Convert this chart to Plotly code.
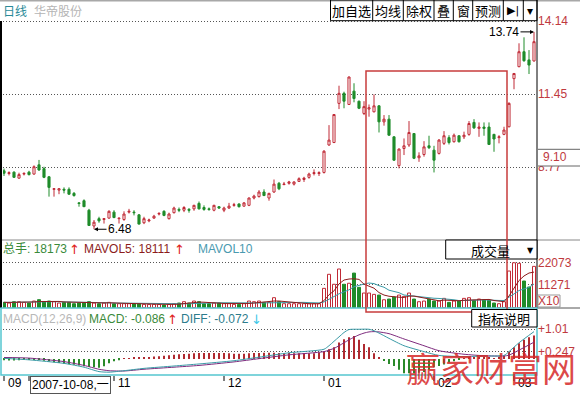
import plotly.graph_objects as go
import pandas as pd

# ---------------- data ----------------
opens = [8.63, 8.53, 8.58, 8.36, 8.51, 8.58, 8.51, 8.85, 8.71, 8.41,
         7.95, 7.92, 7.95, 7.95, 7.80, 7.45, 7.53, 7.18, 6.60, 6.87,
         6.84, 6.89, 7.11, 6.87, 6.84, 7.11, 7.11, 7.01, 6.72, 6.79,
         6.89, 7.04, 7.14, 6.87, 7.09, 7.21, 7.18, 7.21, 7.23, 7.43,
         7.28, 7.23, 7.18, 7.31, 7.18, 7.26, 7.36, 7.41, 7.33, 7.36,
         7.63, 7.68, 7.85, 7.63, 7.85, 8.17, 8.12, 8.17, 8.14, 8.24,
         8.31, 8.39, 8.53, 8.53, 8.57, 9.58, 9.67, 11.11, 11.48, 11.07,
         11.56, 11.19, 10.74, 10.90, 10.80, 11.02, 10.43, 10.53, 9.88, 8.82,
         9.45, 9.58, 10.00, 9.11, 9.23, 9.55, 9.39, 9.27, 9.64, 9.85,
         9.70, 9.92, 9.88, 9.97, 10.41, 10.19, 10.24, 10.24, 9.97, 9.85,
         9.97, 10.25, 12.02, 12.46, 13.01, 12.71, 12.67]
highs = [8.71, 8.61, 8.61, 8.56, 8.58, 8.63, 8.83, 9.03, 8.78, 8.44,
         7.99, 7.99, 8.02, 8.02, 7.85, 7.48, 7.58, 7.23, 6.82, 6.94,
         6.89, 7.18, 7.18, 6.89, 7.14, 7.23, 7.18, 7.04, 6.94, 6.87,
         7.01, 7.11, 7.18, 7.09, 7.31, 7.28, 7.33, 7.26, 7.38, 7.50,
         7.36, 7.28, 7.38, 7.33, 7.31, 7.45, 7.45, 7.43, 7.48, 7.65,
         7.75, 7.92, 7.95, 7.82, 8.31, 8.22, 8.22, 8.26, 8.24, 8.39,
         8.41, 8.56, 8.68, 8.61, 9.39, 10.31, 10.72, 11.76, 11.54, 12.10,
         11.85, 11.21, 11.19, 11.07, 11.44, 11.04, 10.68, 10.68, 9.90, 9.45,
         9.82, 10.46, 10.02, 9.31, 9.72, 9.92, 9.55, 9.80, 10.09, 9.94,
         10.00, 9.93, 10.07, 10.46, 10.53, 10.41, 10.41, 10.41, 9.99, 9.94,
         10.25, 11.15, 12.22, 13.32, 13.54, 13.07, 13.74]
lows = [8.44, 8.46, 8.37, 8.34, 8.46, 8.46, 8.49, 8.63, 8.36, 7.68,
        7.68, 7.77, 7.80, 7.75, 7.68, 7.31, 7.30, 6.60, 6.48, 6.72,
        6.69, 6.87, 6.89, 6.69, 6.79, 7.06, 6.99, 6.66, 6.67, 6.74,
        6.87, 6.99, 6.96, 6.84, 7.06, 7.11, 7.11, 7.09, 7.16, 7.21,
        7.16, 7.16, 7.14, 7.23, 7.11, 7.23, 7.31, 7.28, 7.31, 7.33,
        7.58, 7.65, 7.70, 7.53, 7.82, 7.92, 8.11, 8.12, 8.09, 8.22,
        8.22, 8.34, 8.46, 8.44, 8.53, 9.55, 9.65, 10.90, 10.93, 11.05,
        11.15, 10.90, 10.68, 10.62, 10.78, 10.04, 10.29, 9.92, 9.00, 8.72,
        9.21, 9.51, 9.06, 8.96, 9.15, 9.43, 8.57, 9.23, 9.58, 9.60,
        9.67, 9.67, 9.80, 9.92, 10.17, 9.88, 9.92, 9.58, 9.33, 9.64,
        9.94, 10.23, 11.63, 12.44, 12.64, 12.19, 12.65]
closes = [8.54, 8.56, 8.39, 8.49, 8.53, 8.49, 8.78, 8.66, 8.39, 8.02,
          7.97, 7.97, 7.92, 7.77, 7.72, 7.43, 7.31, 6.62, 6.74, 6.79,
          6.87, 7.14, 6.91, 6.89, 7.04, 7.14, 7.09, 6.67, 6.87, 6.82,
          6.96, 7.06, 6.99, 7.04, 7.26, 7.18, 7.28, 7.18, 7.36, 7.23,
          7.21, 7.21, 7.36, 7.26, 7.26, 7.33, 7.38, 7.31, 7.45, 7.63,
          7.70, 7.85, 7.72, 7.80, 8.14, 7.97, 8.14, 8.22, 8.22, 8.34,
          8.36, 8.51, 8.56, 8.56, 9.35, 9.76, 10.70, 11.48, 11.19, 12.08,
          11.29, 10.93, 10.99, 10.95, 11.02, 10.43, 10.53, 9.94, 9.02, 9.43,
          9.55, 10.04, 9.09, 9.18, 9.51, 9.48, 9.02, 9.76, 9.92, 9.67,
          9.94, 9.70, 9.94, 10.37, 10.21, 10.24, 10.19, 9.60, 9.80, 9.88,
          10.13, 11.11, 12.21, 13.01, 12.68, 12.52, 13.38]
volumes = [2620, 2290, 2950, 2950, 2620, 2290, 3270, 3930, 2950, 3270,
           2950, 2290, 2620, 2620, 1960, 2290, 2290, 2950, 2290, 1960,
           2290, 2620, 1960, 1960, 1960, 1960, 1960, 1960, 1640, 1640,
           1640, 1640, 1310, 1640, 1960, 2290, 2950, 2290, 3270, 2950,
           1960, 1960, 2290, 2290, 1960, 1960, 1640, 1640, 1960, 3270,
           2950, 3270, 2620, 2620, 4910, 2950, 1960, 1960, 1960, 1960,
           1960, 1960, 1960, 1960, 9500, 16400, 11500, 19000, 11500, 12000,
           17000, 10000, 7200, 7200, 6550, 6200, 3900, 4250, 5240, 6200,
           5560, 7200, 4250, 2950, 3270, 4250, 3270, 3270, 4580, 2620,
           3270, 3270, 4580, 4910, 3600, 4250, 3930, 3600, 2290, 1960,
           2950, 18000, 22073, 21800, 13100, 10150, 20300]
macd_hist = [-0.04, -0.05, -0.05, -0.04, -0.03, -0.03, -0.02, -0.02,
             -0.06, -0.09, -0.11, -0.14, -0.16, -0.18, -0.20, -0.22,
             -0.25, -0.27, -0.28, -0.30, -0.25, -0.15, -0.08, -0.04,
             0.02, 0.03, 0.04, 0.05, 0.06, 0.07, 0.08, 0.09,
             0.11, 0.13, 0.14, 0.16, 0.17, 0.18, 0.19, 0.20,
             0.20, 0.20, 0.20, 0.20, 0.20, 0.19, 0.18, 0.18,
             0.18, 0.19, 0.20, 0.20, 0.21, 0.21, 0.21, 0.20,
             0.20, 0.20, 0.19, 0.19, 0.19, 0.19, 0.19,
             0.22, 0.25, 0.33, 0.40, 0.56, 0.67, 0.74, 0.78, 0.65, 0.51, 0.40, 0.19, 0.06,
             -0.07, -0.17, -0.24, -0.37, -0.49, -0.49, -0.49, -0.47,
             -0.44, -0.37, -0.28, -0.24, -0.19, -0.12, -0.08, -0.02,
             0.03, 0.04, 0.05, 0.05, 0.04, 0.04, 0.03, 0.05,
             0.12, 0.25, 0.40, 0.53, 0.65, 0.74, 0.80]
diff_idx = [0, 5, 12, 16, 19, 21, 24, 28, 34, 39, 46, 51, 57, 64, 65, 66, 67,
            68, 69, 71, 73, 74, 75, 77, 80, 84, 87, 92, 96, 100, 101, 103, 106]
diff_vals = [0.02, -0.03, -0.15, -0.28, -0.43, -0.45, -0.40, -0.32, -0.24, -0.17,
             -0.06, 0.06, 0.21, 0.33, 0.45, 0.60, 0.75, 0.90, 1.00, 1.01, 1.01,
             0.96, 0.88, 0.70, 0.45, 0.25, 0.12, 0.08, 0.10, 0.12, 0.25, 0.55, 0.93]
dea_idx = [0, 5, 12, 16, 19, 21, 24, 28, 34, 39, 46, 51, 57, 64, 66, 67, 68, 69,
           70, 71, 72, 73, 74, 75, 77, 80, 84, 87, 92, 96, 100, 101, 103, 106]
dea_vals = [0.05, 0.03, -0.09, -0.22, -0.35, -0.40, -0.41, -0.35, -0.28, -0.22,
            -0.10, 0.01, 0.14, 0.25, 0.36, 0.45, 0.55, 0.65, 0.74, 0.82, 0.88,
            0.92, 0.93, 0.92, 0.86, 0.68, 0.45, 0.28, 0.16, 0.11, 0.10, 0.13,
            0.30, 0.57]
month_idx = [0, 5, 22, 44, 64, 86, 102]
month_labels = ["09", "10", "11", "12", "01", "02", "03"]
price_ticks = [8.77, 11.45, 14.14]
vol_ticks = [11271, 22073]
macd_ticks = [0.247, 1.01]
macd_tick_text = ["+0.247", "+1.01"]
high_value = 13.74
low_value = 6.48
box_price_text = "9.10"

# ---------------- styling / geometry ----------------
W, H = 580, 395
ML, MR, MT, MB = 3, 43, 0, 20
PW, PH = W - ML - MR, H - MT - MB


def px2x(px):
    return (px - ML) / PW


def py2y(py):
    return 1 - (py - MT) / PH


RED = "#c02a36"
GREEN = "#1f8c2a"
AXRED = "#c0393e"
TEAL = "#3a9aa6"
PURPLE = "#7d2a7d"
BOXTEAL = "#56c6d0"
FONT = "Liberation Sans, Noto Sans CJK SC, sans-serif"
CJK = "Noto Sans CJK SC, sans-serif"

n = len(opens)
idx = list(range(n))
up = [c >= o for o, c in zip(opens, closes)]
vol_s = pd.Series(volumes, dtype=float)
mavol5 = vol_s.rolling(5, min_periods=1).mean().tolist()
mavol10 = vol_s.rolling(10, min_periods=1).mean().tolist()

fig = go.Figure()
fig.add_trace(go.Candlestick(
    x=idx, open=opens, high=highs, low=lows, close=closes,
    increasing=dict(line=dict(color=RED, width=1), fillcolor="white"),
    decreasing=dict(line=dict(color=GREEN, width=1), fillcolor=GREEN),
    whiskerwidth=0, xaxis="x", yaxis="y", showlegend=False, hoverinfo="skip"))

fig.add_trace(go.Bar(
    x=idx, y=volumes, width=0.6, xaxis="x2", yaxis="y2", showlegend=False,
    marker=dict(color=["white" if u else GREEN for u in up],
                line=dict(color=[RED if u else GREEN for u in up], width=1))))
fig.add_trace(go.Scatter(x=idx, y=mavol10, mode="lines", xaxis="x2", yaxis="y2",
                         line=dict(color=TEAL, width=1), showlegend=False))
fig.add_trace(go.Scatter(x=idx, y=mavol5, mode="lines", xaxis="x2", yaxis="y2",
                         line=dict(color="#8c1c1c", width=1), showlegend=False))

fig.add_trace(go.Bar(
    x=idx, y=macd_hist, width=0.22, xaxis="x3", yaxis="y3", showlegend=False,
    marker=dict(color=["#b02a30" if v >= 0 else "#2a8a2a" for v in macd_hist],
                line=dict(width=0))))
fig.add_trace(go.Scatter(x=dea_idx, y=dea_vals, mode="lines", xaxis="x3", yaxis="y3",
                         line=dict(color=PURPLE, width=1, shape="spline", smoothing=0.6),
                         showlegend=False))
fig.add_trace(go.Scatter(x=diff_idx, y=diff_vals, mode="lines", xaxis="x3", yaxis="y3",
                         line=dict(color=TEAL, width=1, shape="spline", smoothing=0.6),
                         showlegend=False))

common_x = dict(range=[-0.2, 106.6], showgrid=False, zeroline=False,
                showticklabels=False, ticks="", showline=False, domain=[0, 1])
tickfont = dict(color=AXRED, size=12, family=FONT)
common_y = dict(side="right", showline=False, zeroline=False, ticks="",
                showgrid=True, gridcolor="#555555", gridwidth=1, griddash="1px,2px",
                tickfont=tickfont, automargin=False)

fig.update_layout(
    width=W, height=H,
    margin=dict(l=ML, r=MR, t=MT, b=MB),
    paper_bgcolor="white", plot_bgcolor="white",
    barmode="overlay", boxgap=0.4, showlegend=False,
    xaxis=dict(**common_x, anchor="y", rangeslider=dict(visible=False)),
    xaxis2=dict(**common_x, anchor="y2", matches="x"),
    xaxis3=dict(**common_x, anchor="y3", matches="x"),
    yaxis=dict(**common_y, domain=[py2y(240), py2y(2)], range=[6.085, 14.839],
               tickvals=price_ticks, ticktext=[f"{v:.2f}" for v in price_ticks]),
    yaxis2=dict(**common_y, domain=[py2y(308), py2y(240)], range=[-147, 33241],
                tickvals=vol_ticks, ticktext=[str(v) for v in vol_ticks]),
    yaxis3=dict(**common_y, domain=[0, py2y(308)], range=[-0.5456, 1.733],
                tickvals=macd_ticks, ticktext=macd_tick_text),
)

shapes = []


def line(x0, y0, x1, y1, color, width=1):
    shapes.append(dict(type="line", xref="paper", yref="paper", layer="above",
                       x0=px2x(x0), y0=py2y(y0), x1=px2x(x1), y1=py2y(y1),
                       line=dict(color=color, width=width)))


def rect(x0, y0, x1, y1, color, fill="rgba(0,0,0,0)", width=1):
    shapes.append(dict(type="rect", xref="paper", yref="paper", layer="above",
                       x0=px2x(x0), y0=py2y(y0), x1=px2x(x1), y1=py2y(y1),
                       line=dict(color=color, width=width), fillcolor=fill))


# frame
line(0, 0.5, 580, 0.5, "#a8a8a8", 2)
line(0, 240, 580, 240, "#888888", 1)
line(537, 0, 537, 308, "#000000", 1)
line(1, 21, 1, 308, "#000000", 2)
line(537, 308, 580, 308, "#555555", 1)
rect(1, 308, 537, 375, BOXTEAL, width=1.5)
# toolbar
rect(330.5, 0, 537, 20.7, "#000000")
for sx in [372.7, 403.3, 434, 453.3, 472.7, 503.3, 523.3]:
    line(sx, 0, sx, 20.7, "#000000")
# 9.10 price box
rect(538, 149.3, 580, 166, "rgba(0,0,0,0)", fill="white", width=0)
line(538, 149.3, 580, 149.3, "#666666")
line(538, 166, 580, 166, "#666666")
# 成交量 box
rect(445.7, 240, 537, 259, "#000000", fill="white")
# X10 box
rect(538, 295, 560, 307, "#999999")
# red selection rectangle
rect(366, 71, 507, 312, "#c83c3c", width=1.5)
# 指标说明 box
rect(471.7, 309.5, 537, 327, "#000000", fill="white")
# month tick marks
for mi in month_idx:
    shapes.append(dict(type="line", xref="x3", yref="paper", layer="above",
                       x0=mi, x1=mi, y0=py2y(376), y1=py2y(381),
                       line=dict(color="#000000", width=1)))
fig.update_layout(shapes=shapes)

anns = []


def T(px, py, text, color="#000000", size=12, anchor="left", family=FONT, **kw):
    d = dict(x=px2x(px), y=py2y(py), xref="paper", yref="paper", text=text,
             showarrow=False, xanchor=anchor, yanchor="middle",
             font=dict(color=color, size=size, family=family))
    d.update(kw)
    anns.append(d)


T(1, 11, "日线", color="#2a8a98", family=CJK)
T(32, 11, "华帝股份", color="#b4b4b4", family=CJK)
for cx, txt in [(351.7, "加自选"), (388, "均线"), (418.7, "除权"), (443.7, "叠"),
                (463, "窗"), (488, "预测")]:
    T(cx, 11, txt, size=13, anchor="center", family=CJK)
T(513.3, 11, "▶|", size=11, anchor="center", family="DejaVu Sans")
T(530.3, 11, "▾", size=12, anchor="center", family="DejaVu Sans")

# price markers
anns.append(dict(x=idx[-1], y=high_value, xref="x", yref="y", text=f"{high_value:.2f}",
                 showarrow=True, ax=-30, ay=0, arrowhead=2, arrowsize=0.8,
                 arrowwidth=1, arrowcolor="#000000", standoff=0,
                 font=dict(color="#000000", size=12, family=FONT)))
low_i = lows.index(min(lows))
anns.append(dict(x=low_i, y=low_value, xref="x", yref="y", text=f"{low_value:.2f}",
                 showarrow=True, ax=26, ay=0, arrowhead=2, arrowsize=0.8,
                 arrowwidth=1, arrowcolor="#000000", standoff=0,
                 font=dict(color="#000000", size=12, family=FONT)))
T(541, 157.5, box_price_text, color=AXRED)

# volume header
T(1, 249, "总手: 18173", color="#3a8a3a")
T(67, 249, "↑", color="#e02020", size=13, family="DejaVu Sans")
T(82, 249, "MAVOL5: 18111", color="#8c1c1c")
T(172, 249, "↑", color="#e02020", size=13, family="DejaVu Sans")
T(196, 249, "MAVOL10", color="#4a9ab0")
T(490, 250, "成交量", size=13, anchor="center", family=CJK)
T(530, 250, "▼", size=8, anchor="center", family="DejaVu Sans")
T(549, 301, "X10", color=AXRED, size=12, anchor="center")

# MACD header
T(1, 319, "MACD(12,26,9)", color="#b8b8b8")
T(87, 319, "MACD: -0.086", color="#3a8a3a")
T(165, 319, "↑", color="#e02020", size=13, family="DejaVu Sans")
T(179, 319, "DIFF: -0.072", color="#2c7c8c")
T(249, 319, "↓", color="#40c8e8", size=13, family="DejaVu Sans")
T(504, 318.5, "指标说明", size=13, anchor="center", family=CJK)

# month labels
for mi, ml in zip(month_idx, month_labels):
    anns.append(dict(x=mi + 0.3, y=py2y(383), xref="x3", yref="paper", text=ml,
                     showarrow=False, xanchor="left", yanchor="middle",
                     font=dict(color="#000000", size=12, family=FONT)))
T(30, 384.5, "2007-10-08,一", bgcolor="white", bordercolor="#555555",
  borderwidth=1, borderpad=1)

# watermark
T(491, 367, "赢家财富网", color="rgba(214,40,40,0.85)", size=34, anchor="center",
  family=CJK)

fig.update_layout(annotations=anns)
fig.write_html("out.html", config={"displayModeBar": False},
               post_script="document.body.style.margin='0';"
                           "document.body.style.overflow='hidden';")
